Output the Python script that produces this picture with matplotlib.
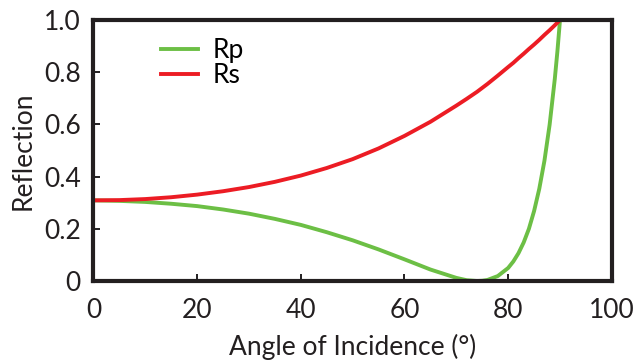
"""Fresnel reflection of p- and s-polarised light versus angle of incidence."""

import matplotlib

matplotlib.use("Agg")
import matplotlib.pyplot as plt

# values
angle = [0, 5, 10, 15, 20, 25, 30, 35, 40, 45, 50, 55, 60, 65, 70, 72,
         74, 75, 76, 78, 80, 81, 82, 83, 84, 85, 86, 87, 88, 89, 89.5, 90]
r_p = [0.309, 0.307, 0.303, 0.296, 0.287, 0.274, 0.258, 0.238, 0.215,
       0.187, 0.156, 0.121, 0.083, 0.044, 0.012, 0.003, 0.000, 0.001,
       0.004, 0.019, 0.050, 0.075, 0.107, 0.148, 0.200, 0.268, 0.353,
       0.461, 0.599, 0.775, 0.880, 1.0]
r_s = [0.309, 0.310, 0.314, 0.321, 0.331, 0.344, 0.360, 0.380, 0.404,
       0.433, 0.467, 0.508, 0.556, 0.610, 0.672, 0.698, 0.725, 0.740,
       0.755, 0.787, 0.820, 0.836, 0.854, 0.871, 0.889, 0.906, 0.924,
       0.943, 0.961, 0.980, 0.990, 1.0]

x_ticks = [0, 20, 40, 60, 80, 100]
y_ticks = [0, 0.2, 0.4, 0.6, 0.8, 1.0]
y_tick_labels = ["0", "0.2", "0.4", "0.6", "0.8", "1.0"]

plt.rcParams["font.family"] = ["Lato", "DejaVu Sans"]
ink = "#231f20"
fs = 19

fig = plt.figure(figsize=(6.36, 3.64), dpi=100)
ax = fig.add_axes([0.147, 0.228, 0.815, 0.717])

ax.plot(angle, r_p, color="#6cbf45", linewidth=2.8, label="Rp", zorder=2)
ax.plot(angle, r_s, color="#ec1c24", linewidth=2.8, label="Rs", zorder=2)

ax.set_xlim(0, 100)
ax.set_ylim(0, 1.0)
ax.set_xticks(x_ticks)
ax.set_xticklabels([str(t) for t in x_ticks])
ax.set_yticks(y_ticks)
ax.set_yticklabels(y_tick_labels)
ax.tick_params(direction="in", length=5, width=1.4, color=ink,
               labelsize=fs, labelcolor=ink)
ax.tick_params(axis="x", pad=12)
ax.tick_params(axis="y", pad=9)

for spine in ax.spines.values():
    spine.set_linewidth(3.0)
    spine.set_color(ink)
    spine.set_zorder(3)

ax.set_xlabel("Angle of Incidence (°)", fontsize=fs, color=ink, labelpad=8)
ax.set_ylabel("Reflection", fontsize=fs, color=ink, labelpad=6)

ax.legend(loc="upper left", bbox_to_anchor=(0.13, 0.932), frameon=False,
          fontsize=fs, handlelength=1.4, handletextpad=0.55,
          labelspacing=0.0, borderpad=0, borderaxespad=0)

fig.savefig("out.png", dpi=100)
plt.close(fig)
